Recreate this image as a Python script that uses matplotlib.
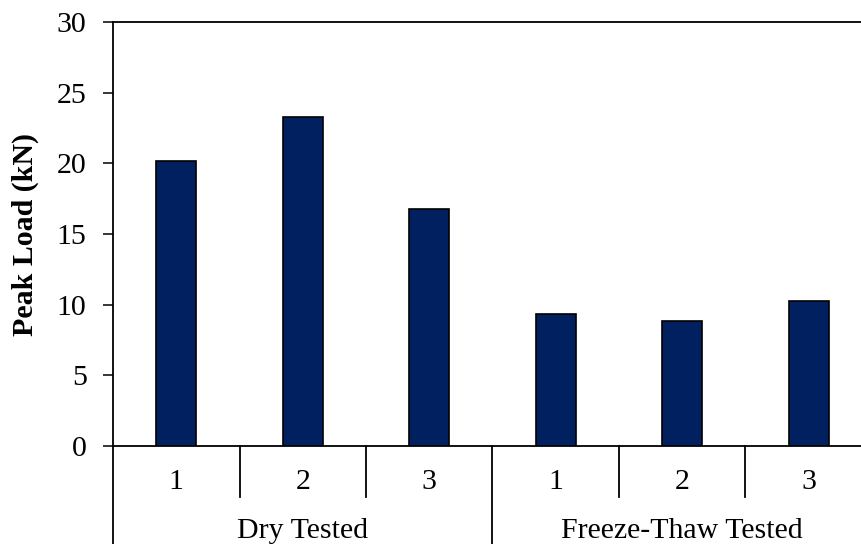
import matplotlib.pyplot as plt

plt.rcParams['font.family'] = ['Liberation Serif', 'DejaVu Serif']

# data
groups = ['Dry Tested', 'Freeze-Thaw Tested']
specimens = ['1', '2', '3']
peak_dry = [20.2, 23.25, 16.75]
peak_ft = [9.35, 8.85, 10.25]

values = peak_dry + peak_ft
xpos = list(range(len(values)))

W, H = 861, 544
fig = plt.figure(figsize=(W / 100, H / 100), dpi=100)
# plot area: left 113px, right ~872px (cut by image edge), top 22px, bottom 446px
ax = fig.add_axes([113 / W, (H - 446) / H, (872 - 113) / W, (446 - 22) / H])

ax.bar(xpos, values, width=0.316, color='#002060', edgecolor='black', linewidth=1.2, zorder=3)

ax.set_xlim(-0.5, len(values) - 0.5)
ax.set_ylim(0, 30)
ax.set_yticks(range(0, 31, 5))
ax.tick_params(axis='y', direction='out', length=7.5, width=1.1, pad=11.5, labelsize=21.5)
ax.set_xticks([])

for s in ax.spines.values():
    s.set_linewidth(1.3)

ax.set_ylabel('Peak Load (kN)', fontsize=21.5, fontweight='bold', labelpad=13)

# multi-level category axis below the plot
trans = ax.get_xaxis_transform()
for i, x in enumerate(xpos):
    ax.text(x, -0.101, specimens[i % 3], transform=trans, ha='center', va='baseline',
            fontsize=21.5)
# short ticks between specimens
for b in [0.5, 1.5, 3.5, 4.5]:
    ax.plot([b, b], [0, -0.1196], transform=trans, color='black', lw=1.3, clip_on=False)
# long separators between groups
for b in [-0.5, 2.5, 5.5]:
    ax.plot([b, b], [0, -0.4], transform=trans, color='black', lw=1.3, clip_on=False)
for g, name in enumerate(groups):
    ax.text(g * 3 + 1, -0.217, name, transform=trans, ha='center', va='baseline',
            fontsize=21.5)

fig.savefig('out.png', dpi=100)
